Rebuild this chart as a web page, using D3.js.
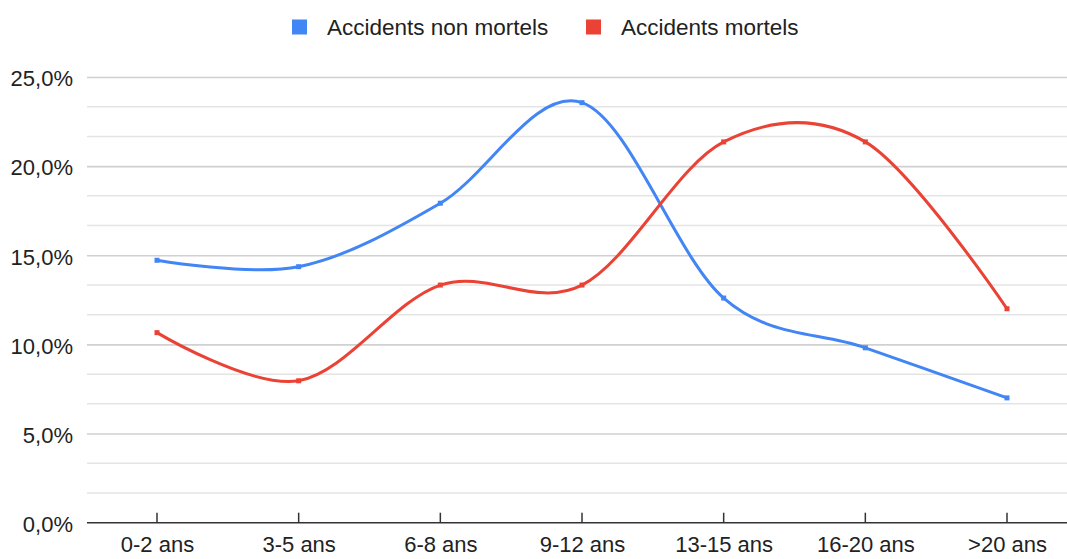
<!DOCTYPE html>
<html><head><meta charset="utf-8">
<script src="https://cdn.jsdelivr.net/npm/d3@7"></script>
<style>html,body{margin:0;padding:0;background:#fff;}svg{display:block;font-family:"Liberation Sans",Arial,sans-serif;}</style>
</head><body><svg id="c" width="1067" height="559"></svg>
<script>
const categories = ["0-2 ans","3-5 ans","6-8 ans","9-12 ans","13-15 ans","16-20 ans",">20 ans"];
const seriesNames = ["Accidents non mortels","Accidents mortels"];
const nonMortels = [14.72, 14.36, 17.92, 23.56, 12.6, 9.81, 7.0];
const mortels = [10.66, 7.96, 13.33, 13.33, 21.36, 21.36, 12.0];
const colors = ["#4285F4","#EA4335"];
const yMajorTicks = [0, 5, 10, 15, 20, 25];

const svg = d3.select("#c");
const x = d3.scalePoint().domain(categories).range([157, 1007]);
const y = d3.scaleLinear().domain([0, 25]).range([522.7, 77]);
const left = 87, right = 1067;
const FS = 22;

// minor gridlines
const minor = [];
for (let i = 0; i < yMajorTicks.length - 1; i++) {
  const a = yMajorTicks[i], b = yMajorTicks[i+1];
  minor.push(a + (b - a) / 3, a + 2 * (b - a) / 3);
}
svg.append("g").selectAll("line").data(minor).join("line")
  .attr("x1", left).attr("x2", right)
  .attr("y1", d => y(d)).attr("y2", d => y(d))
  .attr("stroke", "#e4e4e4").attr("stroke-width", 1.5);

// major gridlines via axis
const yAxis = d3.axisLeft(y).tickValues(yMajorTicks)
  .tickSize(-(right - left)).tickPadding(14)
  .tickFormat(d => d3.format(".1f")(d).replace(".", ",") + "%");
const gy = svg.append("g").attr("transform", `translate(${left},0)`).call(yAxis);
gy.select(".domain").remove();
gy.selectAll(".tick line").attr("stroke", "#d0d0d0").attr("stroke-width", 1.6);
gy.selectAll(".tick text").attr("font-size", FS).attr("dy", "0.4em").attr("fill", "#222").attr("font-family", "Liberation Sans, Arial, sans-serif");
gy.selectAll(".tick").filter(d => d === 0).select("line").remove();

// x axis
const gx = svg.append("g").attr("transform", `translate(0,${y(0)})`)
  .call(d3.axisBottom(x).tickSize(0).tickPadding(13.5));
gx.select(".domain").remove();
gx.selectAll(".tick text").attr("font-size", FS).attr("fill", "#222").attr("font-family", "Liberation Sans, Arial, sans-serif");
svg.append("line").attr("x1", left).attr("x2", right).attr("y1", y(0)).attr("y2", y(0))
  .attr("stroke", "#333").attr("stroke-width", 1.5);
svg.append("g").selectAll("line").data(categories).join("line")
  .attr("x1", d => x(d)).attr("x2", d => x(d))
  .attr("y1", y(0)).attr("y2", y(0) - 10)
  .attr("stroke", "#333").attr("stroke-width", 1.5);

// lines
const data = [nonMortels, mortels];
const line = d3.line().x((d, i) => x(categories[i])).y(d => y(d)).curve(d3.curveCardinal.tension(0));
data.forEach((vals, s) => {
  svg.append("path").attr("d", line(vals)).attr("fill", "none")
    .attr("stroke", colors[s]).attr("stroke-width", 3);
  svg.append("g").selectAll("rect").data(vals).join("rect")
    .attr("x", (d, i) => x(categories[i]) - 2.5).attr("y", d => y(d) - 2.5)
    .attr("width", 5).attr("height", 5).attr("fill", colors[s]);
});

// legend
const legendItems = [{sq: 292, tx: 327}, {sq: 586, tx: 621}];
seriesNames.forEach((n, i) => {
  svg.append("rect").attr("x", legendItems[i].sq).attr("y", 19.5).attr("width", 15).attr("height", 15).attr("fill", colors[i]);
  svg.append("text").attr("x", legendItems[i].tx).attr("y", 35).attr("font-size", 22.5).attr("fill", "#222").text(n);
});
</script></body></html>
